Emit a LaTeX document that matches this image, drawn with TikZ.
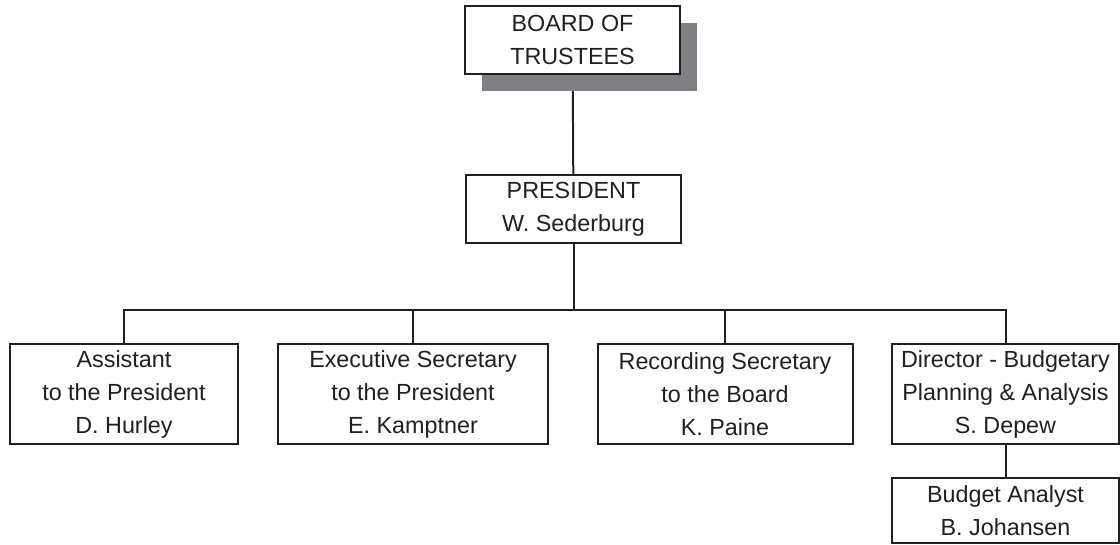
\documentclass[tikz,border=0pt]{standalone}
\usepackage{fontspec}
\setmainfont{Liberation Sans}
\usetikzlibrary{shadows,backgrounds}
\definecolor{inkgray}{RGB}{35,31,32}
\definecolor{shadowgray}{RGB}{128,128,132}
\tikzset{orgbox/.style={draw=inkgray,line width=1.5pt,fill=white,align=center,inner sep=0pt,
  text=inkgray,font=\fontsize{17.5}{24.75}\selectfont}}
\tikzset{orgline/.style={draw=inkgray,line width=1.5pt}}
\tikzset{boardshadow/.style={drop shadow={shadow xshift=12.75pt,shadow yshift=-12.75pt,fill=shadowgray,opacity=1}}}

\begin{document}
\begin{tikzpicture}[x=0.75pt,y=-0.75pt]
	\useasboundingbox (0,0) rectangle (1120,544);
	% top of the chart
	\node [orgbox,boardshadow,minimum width=161.25pt,minimum height=51pt] (board) at (572.5,40) {BOARD OF\\TRUSTEES};
	\node [orgbox,minimum width=161.25pt,minimum height=51pt] (pres) at (573.5,209) {PRESIDENT\\W. Sederburg};
	% staff row
	\node [orgbox,minimum width=171pt,minimum height=75pt] (assist) at (124,394) {Assistant\\to the President\\D. Hurley};
	\node [orgbox,minimum width=202.5pt,minimum height=75pt] (exec) at (413,394) {Executive Secretary\\to the President\\E. Kamptner};
	\node [orgbox,minimum width=191.25pt,minimum height=75pt] (record) at (725,394) {Recording Secretary\\to the Board\\K. Paine};
	\node [orgbox,minimum width=170.25pt,minimum height=75pt] (director) at (1005.5,394) {Director - Budgetary\\Planning \& Analysis\\S. Depew};
	\node [orgbox,minimum width=170.25pt,minimum height=48.75pt] (analyst) at (1005.5,510.5) {Budget Analyst\\B. Johansen};

	\coordinate (bus) at (573.5,310);
	\begin{scope}[on background layer]
		\draw [orgline] (board) -- (pres);
	\end{scope}
	\draw [orgline] (pres) -- (bus);
	\foreach \n in {assist,exec,record,director}
		\draw [orgline] (bus) -| (\n.north);
	\draw [orgline] (director) -- (analyst);
\end{tikzpicture}
\end{document}
